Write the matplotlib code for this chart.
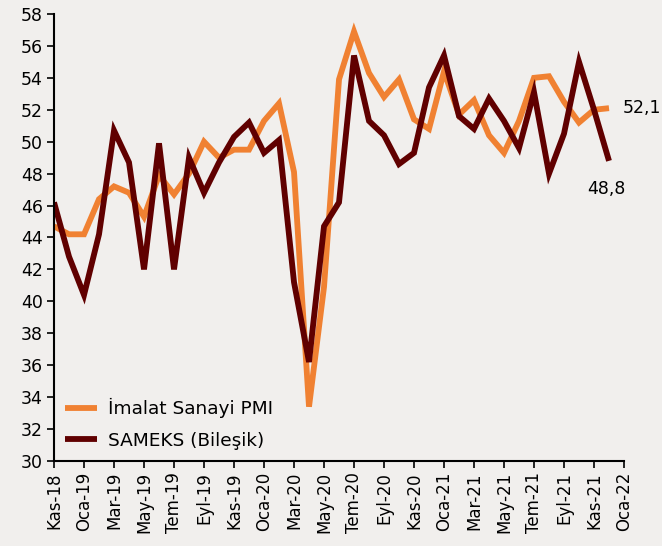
import matplotlib
matplotlib.use("Agg")
import matplotlib.pyplot as plt

# Aylar: Kas-18 .. Ara-21
months = ["Kas-18", "Ara-18", "Oca-19", "Şub-19", "Mar-19", "Nis-19", "May-19", "Haz-19",
          "Tem-19", "Ağu-19", "Eyl-19", "Eki-19", "Kas-19", "Ara-19", "Oca-20", "Şub-20",
          "Mar-20", "Nis-20", "May-20", "Haz-20", "Tem-20", "Ağu-20", "Eyl-20", "Eki-20",
          "Kas-20", "Ara-20", "Oca-21", "Şub-21", "Mar-21", "Nis-21", "May-21", "Haz-21",
          "Tem-21", "Ağu-21", "Eyl-21", "Eki-21", "Kas-21", "Ara-21"]

pmi = [44.7, 44.2, 44.2, 46.4, 47.2, 46.8, 45.3, 47.9, 46.7, 48.0, 50.0, 49.0,
       49.5, 49.5, 51.3, 52.4, 48.1, 33.4, 40.9, 53.9, 56.9, 54.3, 52.8, 53.9,
       51.4, 50.8, 54.4, 51.7, 52.6, 50.4, 49.3, 51.3, 54.0, 54.1, 52.5, 51.2,
       52.0, 52.1]

sameks = [46.2, 42.8, 40.4, 44.2, 50.7, 48.7, 42.0, 49.9, 42.0, 49.0, 46.8, 48.7,
          50.3, 51.2, 49.3, 50.1, 41.2, 36.2, 44.7, 46.2, 55.4, 51.3, 50.4, 48.6,
          49.3, 53.4, 55.4, 51.6, 50.8, 52.7, 51.3, 49.6, 53.1, 48.0, 50.5, 55.0,
          52.0, 48.8]

tick_labels = ["Kas-18", "Oca-19", "Mar-19", "May-19", "Tem-19", "Eyl-19", "Kas-19",
               "Oca-20", "Mar-20", "May-20", "Tem-20", "Eyl-20", "Kas-20", "Oca-21",
               "Mar-21", "May-21", "Tem-21", "Eyl-21", "Kas-21", "Oca-22"]

BG = "#f1efed"
ORANGE = "#f08132"
DARK = "#600000"

fig = plt.figure(figsize=(6.62, 5.46), dpi=100, facecolor=BG)
ax = fig.add_axes([0.0816, 0.1557, 0.861, 0.8187], facecolor=BG)

x = list(range(len(months)))
ax.plot(x, pmi, color=ORANGE, linewidth=4.2, label="İmalat Sanayi PMI",
        solid_joinstyle="miter", solid_capstyle="butt")
ax.plot(x, sameks, color=DARK, linewidth=4.2, label="SAMEKS (Bileşik)",
        solid_joinstyle="miter", solid_capstyle="butt")

ax.set_xlim(0, 38)
ax.set_ylim(30, 58)
ax.set_xticks(range(0, 39, 2))
ax.set_xticklabels(tick_labels, rotation=90, fontsize=12)
ax.set_yticks(range(30, 59, 2))
ax.tick_params(axis="y", labelsize=12.5, length=5, width=1.2, pad=3)
ax.tick_params(axis="x", length=5, width=1.2, pad=3)

for s in ["top", "right"]:
    ax.spines[s].set_visible(False)
for s in ["left", "bottom"]:
    ax.spines[s].set_linewidth(1.5)

# Son değer etiketleri
ax.annotate(f"{pmi[-1]:.1f}".replace(".", ","), (x[-1], pmi[-1]),
            xytext=(10, 0), textcoords="offset points", va="center", ha="left",
            fontsize=12.5)
ax.annotate(f"{sameks[-1]:.1f}".replace(".", ","), (x[-1], sameks[-1]),
            xytext=(-16, -14), textcoords="offset points", va="top", ha="left",
            fontsize=12.5)

ax.legend(loc="lower left", bbox_to_anchor=(0.0, 0.0), frameon=False, fontsize=13.3,
          handlelength=1.7, handletextpad=0.6, labelspacing=0.75, borderaxespad=0.1,
          borderpad=0.5)

fig.savefig("out.png", dpi=100, facecolor=BG)
